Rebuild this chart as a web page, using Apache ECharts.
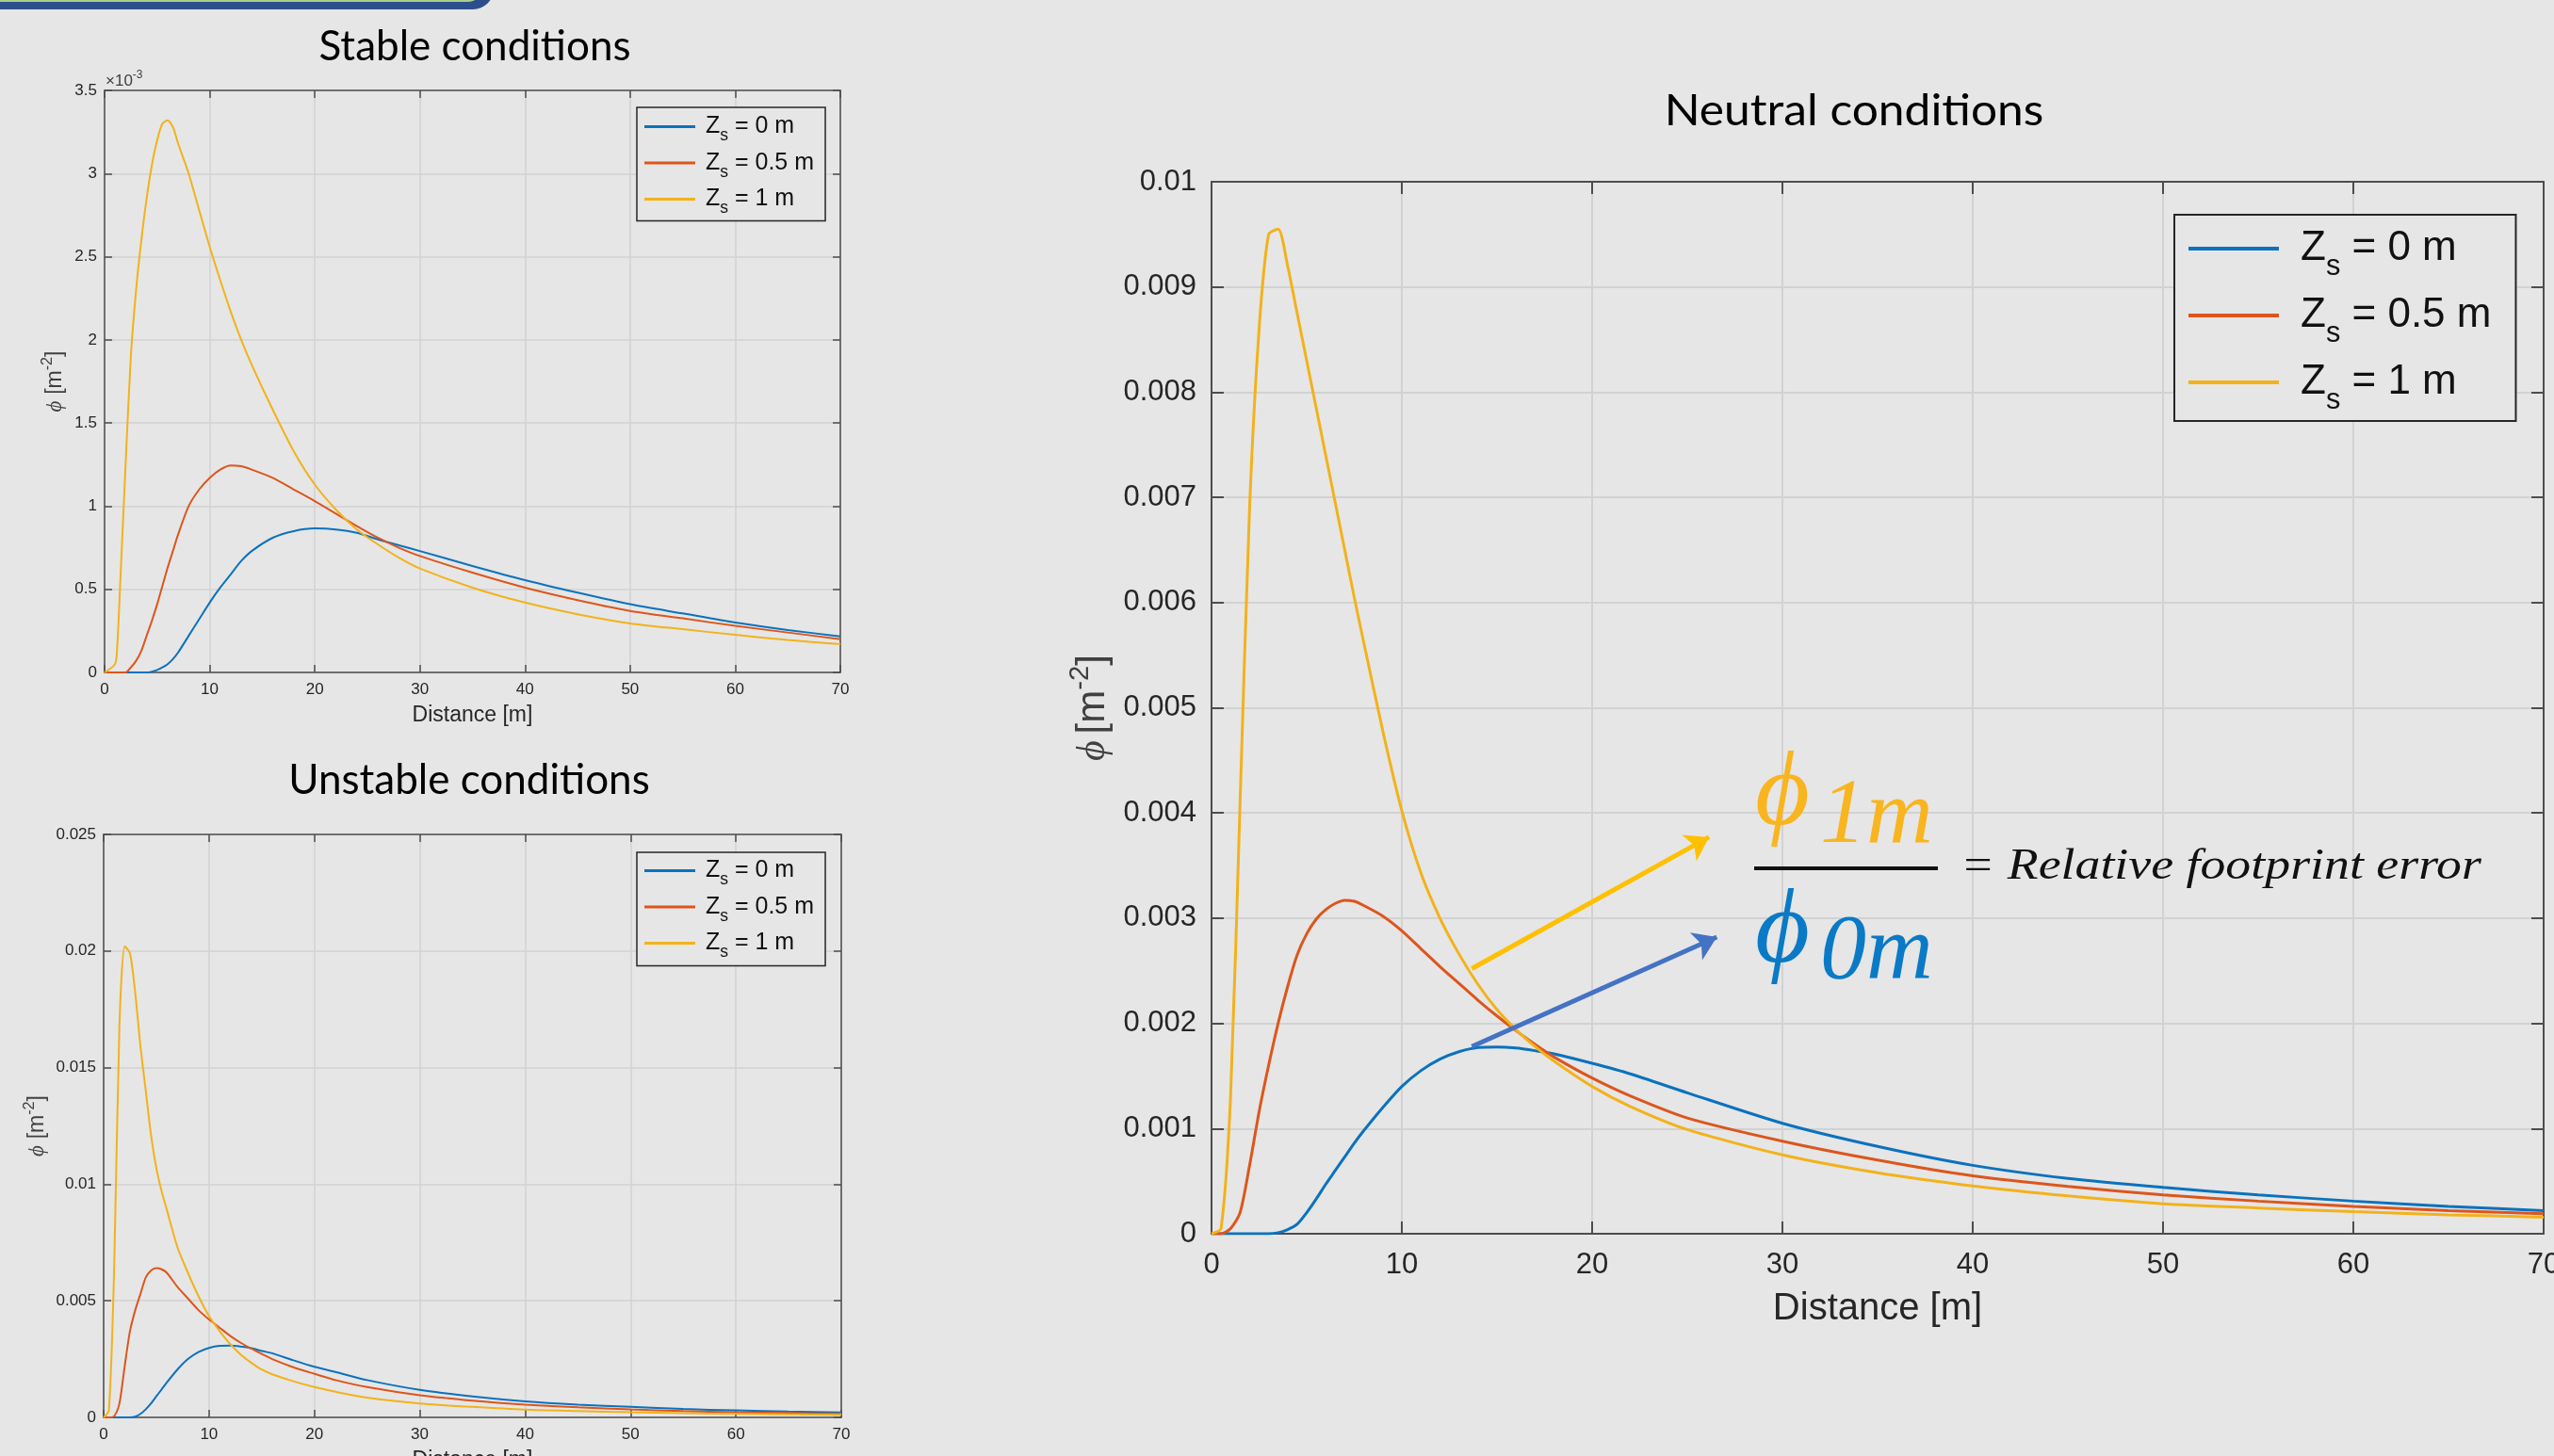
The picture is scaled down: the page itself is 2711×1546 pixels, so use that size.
<!DOCTYPE html>
<html>
<head>
<meta charset="utf-8">
<title>Footprint function</title>
<script src="https://cdn.jsdelivr.net/npm/echarts@6/dist/echarts.min.js"></script>
<style>
  html, body { margin: 0; padding: 0; background: #e6e6e6; }
  #chart { width: 2711px; height: 1546px; }
</style>
</head>
<body>
<div id="chart"></div>
<script>
// phi(x) 曲线, 单位 1e-3 m^-2, 三个源高度 Z_s
const heights = ['0', '0.5', '1']
const lineColors = ['#0b72bd', '#dc561c', '#f2b21c']

// Stable conditions
const stableX = [0, 1, 1.2, 1.5, 2, 2.5, 3, 3.5, 4, 4.5, 5, 5.5, 6, 6.5, 7, 8, 9, 10, 11, 12,
  13, 14, 16, 18, 20, 22, 24, 26, 28, 30, 35, 40, 45, 50, 55, 60, 65, 70]
const stable0 = [0, 0, 0, 0, 0, 0, 0, 0, 0, 0.005, 0.015, 0.03, 0.05, 0.08, 0.12, 0.22, 0.32, 0.42, 0.51, 0.59,
  0.67, 0.73, 0.81, 0.85, 0.866, 0.86, 0.84, 0.80, 0.765, 0.73, 0.64, 0.555, 0.48, 0.41, 0.355, 0.30, 0.255, 0.217]
const stable05 = [0, 0, 0, 0, 0, 0.03, 0.07, 0.13, 0.22, 0.31, 0.41, 0.52, 0.63, 0.73, 0.83, 1.0, 1.1, 1.17, 1.22, 1.245,
  1.24, 1.22, 1.17, 1.10, 1.03, 0.955, 0.88, 0.81, 0.75, 0.70, 0.60, 0.51, 0.435, 0.37, 0.325, 0.28, 0.24, 0.20]
const stable1 = [0, 0.05, 0.15, 0.55, 1.25, 1.9, 2.3, 2.6, 2.85, 3.05, 3.2, 3.3, 3.32, 3.28, 3.18, 3.0, 2.78, 2.56, 2.36, 2.17,
  2.0, 1.85, 1.58, 1.33, 1.13, 0.98, 0.86, 0.77, 0.69, 0.625, 0.51, 0.42, 0.35, 0.295, 0.26, 0.226, 0.195, 0.17]

// Unstable conditions
const unstableX = [0, 0.5, 1, 1.5, 2, 2.5, 3, 3.5, 4, 4.5, 5, 5.5, 6, 7, 8, 9, 10, 11, 12, 13,
  14, 15, 16, 18, 20, 22, 25, 30, 35, 40, 45, 50, 55, 60, 65, 70]
const unstable0 = [0, 0, 0, 0, 0, 0, 0.03, 0.15, 0.35, 0.6, 0.9, 1.2, 1.5, 2.05, 2.5, 2.8, 2.98, 3.07, 3.08, 3.04,
  2.97, 2.85, 2.75, 2.45, 2.17, 1.95, 1.6, 1.18, 0.9, 0.69, 0.55, 0.45, 0.36, 0.3, 0.25, 0.21]
const unstable05 = [0, 0, 0.05, 0.6, 2.2, 3.7, 4.6, 5.3, 6.0, 6.3, 6.4, 6.35, 6.2, 5.6, 5.1, 4.6, 4.2, 3.85, 3.5, 3.2,
  2.95, 2.72, 2.5, 2.15, 1.87, 1.6, 1.3, 0.95, 0.72, 0.55, 0.43, 0.34, 0.27, 0.22, 0.19, 0.16]
const unstable1 = [0, 0.3, 6.4, 16.8, 20.2, 19.9, 18.2, 15.9, 14.0, 12.1, 10.7, 9.7, 8.9, 7.3, 6.2, 5.2, 4.35, 3.7, 3.15, 2.7,
  2.35, 2.05, 1.85, 1.55, 1.3, 1.1, 0.85, 0.6, 0.45, 0.33, 0.27, 0.22, 0.18, 0.15, 0.13, 0.11]

// Neutral conditions
const neutralX = [0, 0.5, 1, 1.5, 2, 2.5, 3, 3.5, 4, 4.5, 5, 5.5, 6, 6.5, 7, 7.5, 8, 9, 10, 11,
  12, 13, 14, 15, 16, 17, 18, 20, 22, 25, 30, 35, 40, 45, 50, 55, 60, 65, 70]
const neutral0 = [0, 0, 0, 0, 0, 0, 0, 0.01, 0.04, 0.09, 0.2, 0.33, 0.47, 0.6, 0.73, 0.86, 0.98, 1.2, 1.4, 1.55,
  1.66, 1.73, 1.77, 1.775, 1.765, 1.74, 1.71, 1.62, 1.52, 1.34, 1.05, 0.83, 0.65, 0.525, 0.44, 0.37, 0.31, 0.26, 0.22]
const neutral05 = [0, 0, 0.05, 0.2, 0.65, 1.16, 1.6, 2.0, 2.35, 2.65, 2.85, 2.99, 3.08, 3.14, 3.17, 3.16, 3.12, 3.02, 2.88, 2.71,
  2.54, 2.38, 2.22, 2.07, 1.93, 1.80, 1.68, 1.48, 1.31, 1.1, 0.88, 0.7, 0.55, 0.45, 0.37, 0.31, 0.26, 0.22, 0.19]
const neutral1 = [0, 0.05, 1.3, 4.1, 6.9, 8.6, 9.5, 9.55, 9.2, 8.75, 8.3, 7.85, 7.4, 6.95, 6.5, 6.05, 5.62, 4.78, 4.02, 3.43,
  3.0, 2.66, 2.37, 2.13, 1.94, 1.78, 1.64, 1.40, 1.21, 0.99, 0.75, 0.58, 0.455, 0.36, 0.285, 0.245, 0.21, 0.18, 0.157]

// 箭头 (数据坐标: 起点 -> 终点)
const arrowYellow = [[13.68, 2.52], [26.14, 3.77]]
const arrowBlue = [[13.68, 1.78], [26.55, 2.82]]

const chart = echarts.init(document.getElementById('chart'))

const AX = '#4d4d4d'
const TXT = '#262626'
const SANS = 'Liberation Sans'
const SERIF = 'Liberation Serif'
const names = heights.map(h => 'Zs = ' + h + ' m')

function pairs (xs, ys) {
  return xs.map((x, i) => [x, ys[i]])
}

// MATLAB 风格的坐标框 (四边都有刻度)
function boxAxes (gi, o) {
  const tick = { show: true, inside: true, length: o.tick, lineStyle: { color: AX, width: o.lw } }
  const line = { show: true, onZero: false, lineStyle: { color: AX, width: o.lw } }
  const xMain = {
    type: 'value', gridIndex: gi, position: 'bottom', min: 0, max: 70, interval: 10,
    name: 'Distance [m]', nameLocation: 'middle', nameGap: o.xNameGap,
    nameTextStyle: { fontSize: o.xNameSize, color: TXT, fontFamily: SANS },
    axisLine: line, axisTick: tick,
    axisLabel: { fontSize: o.labelSize, color: TXT, fontFamily: SANS, margin: o.xMargin },
    splitLine: { show: true, lineStyle: { color: '#d2d2d2', width: o.lw } },
  }
  const xTop = {
    type: 'value', gridIndex: gi, position: 'top', min: 0, max: 70, interval: 10,
    axisLine: line, axisTick: tick, axisLabel: { show: false }, splitLine: { show: false },
  }
  const sz = o.yNameSize
  const yMain = {
    type: 'value', gridIndex: gi, position: 'left', min: 0, max: o.yMax, interval: o.yStep,
    name: '{p|ϕ}  {t|[m}{u|-2}{t|]}', nameLocation: 'middle', nameGap: o.yNameGap, nameRotate: 90,
    nameTextStyle: {
      color: '#404040',
      rich: {
        p: { fontSize: sz, fontFamily: SERIF, fontStyle: 'italic', color: '#404040', lineHeight: sz * 1.35 },
        t: { fontSize: sz, fontFamily: SANS, color: '#404040', lineHeight: sz * 1.35 },
        u: { fontSize: sz * 0.7, fontFamily: SANS, color: '#404040', lineHeight: sz * 0.6, verticalAlign: 'top' },
      },
    },
    axisLine: line, axisTick: tick,
    axisLabel: { fontSize: o.labelSize, color: TXT, fontFamily: SANS, margin: o.yMargin, formatter: o.fmt },
    splitLine: { show: true, lineStyle: { color: '#d2d2d2', width: o.lw } },
  }
  const yRight = {
    type: 'value', gridIndex: gi, position: 'right', min: 0, max: o.yMax, interval: o.yStep,
    axisLine: line, axisTick: tick, axisLabel: { show: false }, splitLine: { show: false },
  }
  return { x: [xMain, xTop], y: [yMain, yRight] }
}

function legendFor (o) {
  return {
    orient: 'vertical', left: o.left, top: o.top, padding: o.padding, itemGap: o.itemGap,
    itemWidth: o.itemWidth, itemHeight: o.lw + 1, icon: 'rect',
    borderColor: '#262626', borderWidth: o.border, backgroundColor: '#e6e6e6',
    selectedMode: false, data: names,
    formatter: name => '{g| }{z|Z}{s|s}{z|' + name.slice(2) + '}',
    textStyle: {
      rich: {
        g: { width: o.gap },
        z: { fontSize: o.font, fontFamily: SANS, color: '#111', lineHeight: o.row, verticalAlign: 'middle' },
        s: { fontSize: o.font * 0.7, fontFamily: SANS, color: '#111', lineHeight: o.subLH, verticalAlign: 'bottom' },
      },
    },
  }
}

const milli = v => (v === 0 ? '0' : String(+(v / 1000).toFixed(4)))

const axS = boxAxes(0, { tick: 8, lw: 1.5, xNameGap: 34, xNameSize: 23, yNameSize: 23, labelSize: 17, xMargin: 10, yMax: 3.5, yStep: 0.5, yNameGap: 37, yMargin: 8, fmt: v => String(v) })
const axU = boxAxes(1, { tick: 8, lw: 1.5, xNameGap: 34, xNameSize: 23, yNameSize: 23, labelSize: 17, xMargin: 10, yMax: 25, yStep: 5, yNameGap: 55, yMargin: 8, fmt: milli })
const axN = boxAxes(2, { tick: 13, lw: 2, xNameGap: 60, xNameSize: 40, yNameSize: 42, labelSize: 31, xMargin: 18, yMax: 10, yStep: 1, yNameGap: 96, yMargin: 16, fmt: milli })

function lineSeries (xs, arrs, axisIndex, width) {
  return arrs.map((ys, i) => ({
    type: 'line', name: names[i], xAxisIndex: axisIndex, yAxisIndex: axisIndex,
    data: pairs(xs, ys), showSymbol: false, symbol: 'none', smooth: 0.25,
    color: lineColors[i], lineStyle: { color: lineColors[i], width: width },
    silent: true, z: 3,
  }))
}

const neutralSeries = lineSeries(neutralX, [neutral0, neutral05, neutral1], 4, 3)
neutralSeries[0].markLine = {
  silent: true, symbol: ['none', 'arrow'], symbolSize: 24, label: { show: false },
  animation: false,
  data: [
    [{ coord: arrowYellow[0], lineStyle: { color: '#ffc000', width: 5, type: 'solid' }, itemStyle: { color: '#ffc000' } },
      { coord: arrowYellow[1], itemStyle: { color: '#ffc000' } }],
    [{ coord: arrowBlue[0], lineStyle: { color: '#4472c4', width: 5, type: 'solid' }, itemStyle: { color: '#4472c4' } },
      { coord: arrowBlue[1], itemStyle: { color: '#4472c4' } }],
  ],
}

function text (x, y, str, font, fill, align, extra) {
  return Object.assign({
    type: 'text', x: x, y: y, z: 10,
    style: { text: str, font: font, fill: fill, align: align || 'left', verticalAlign: 'middle' },
  }, extra || {})
}

const option = {
  backgroundColor: '#e6e6e6',
  animation: false,
  grid: [
    { left: 111, top: 96, width: 781, height: 618, outerBoundsMode: 'none' },
    { left: 110, top: 886, width: 783, height: 619, outerBoundsMode: 'none' },
    { left: 1286, top: 193, width: 1414, height: 1117, outerBoundsMode: 'none' },
  ],
  xAxis: [...axS.x, ...axU.x, ...axN.x],
  yAxis: [...axS.y, ...axU.y, ...axN.y],
  legend: [
    legendFor({ left: 676, top: 114, padding: [8, 12, 4, 8], itemGap: 7, itemWidth: 54, lw: 2, border: 1.5, font: 25, row: 38, subLH: 8, gap: 6 }),
    legendFor({ left: 676, top: 905, padding: [7, 12, 5, 8], itemGap: 7, itemWidth: 54, lw: 2, border: 1.5, font: 25, row: 38, subLH: 8, gap: 6 }),
    legendFor({ left: 2308, top: 228, padding: [14, 26, 6, 15], itemGap: 14, itemWidth: 96, lw: 3, border: 2, font: 44, row: 70, subLH: 26, gap: 18 }),
  ],
  series: [
    ...lineSeries(stableX, [stable0, stable05, stable1], 0, 2),
    ...lineSeries(unstableX, [unstable0, unstable05, unstable1], 2, 2),
    ...neutralSeries,
  ],
  graphic: [
    // 左上角幻灯片装饰条
    { type: 'rect', shape: { x: -30, y: -40, width: 554, height: 50, r: 22 }, style: { fill: '#2c4f8c' }, z: 1 },
    { type: 'rect', shape: { x: -30, y: -40, width: 544, height: 42, r: 18 }, style: { fill: '#a9cf8e' }, z: 1 },
    { type: 'rect', shape: { x: -30, y: -40, width: 542, height: 40, r: 18 }, style: { fill: '#e6e6e6' }, z: 1 },
    text(504, 50, 'Stable conditions', '44px Lato', '#000', 'center'),
    text(498, 829, 'Unstable conditions', '44px Lato', '#000', 'center'),
    text(1968, 118, 'Neutral conditions', '46px Lato', '#000', 'center', { scaleX: 1.08 }),
    {
      type: 'text', x: 112, y: 86, z: 10,
      style: {
        text: '{a|×10}{b|-3}', verticalAlign: 'middle',
        rich: {
          a: { fontSize: 17, fontFamily: SANS, fill: '#404040', lineHeight: 24, verticalAlign: 'middle' },
          b: { fontSize: 12, fontFamily: SANS, fill: '#404040', lineHeight: 10, verticalAlign: 'top' },
        },
      },
    },
    // 相对足迹误差公式
    text(1892, 846, 'ϕ', 'italic 112px ' + SERIF, '#f9b51f', 'center'),
    text(1932, 868, '1m', 'italic 98px ' + SERIF, '#f9b51f'),
    { type: 'line', shape: { x1: 1862, y1: 922, x2: 2057, y2: 922 }, style: { stroke: '#111', lineWidth: 4 }, z: 10 },
    text(2081, 921, '= Relative footprint error', 'italic 47px ' + SERIF, '#111', 'left', { scaleX: 1.145 }),
    text(1892, 992, 'ϕ', 'italic 112px ' + SERIF, '#0a7ac6', 'center'),
    text(1932, 1012, '0m', 'italic 98px ' + SERIF, '#0a7ac6'),
  ],
}

chart.setOption(option)
</script>
</body>
</html>
